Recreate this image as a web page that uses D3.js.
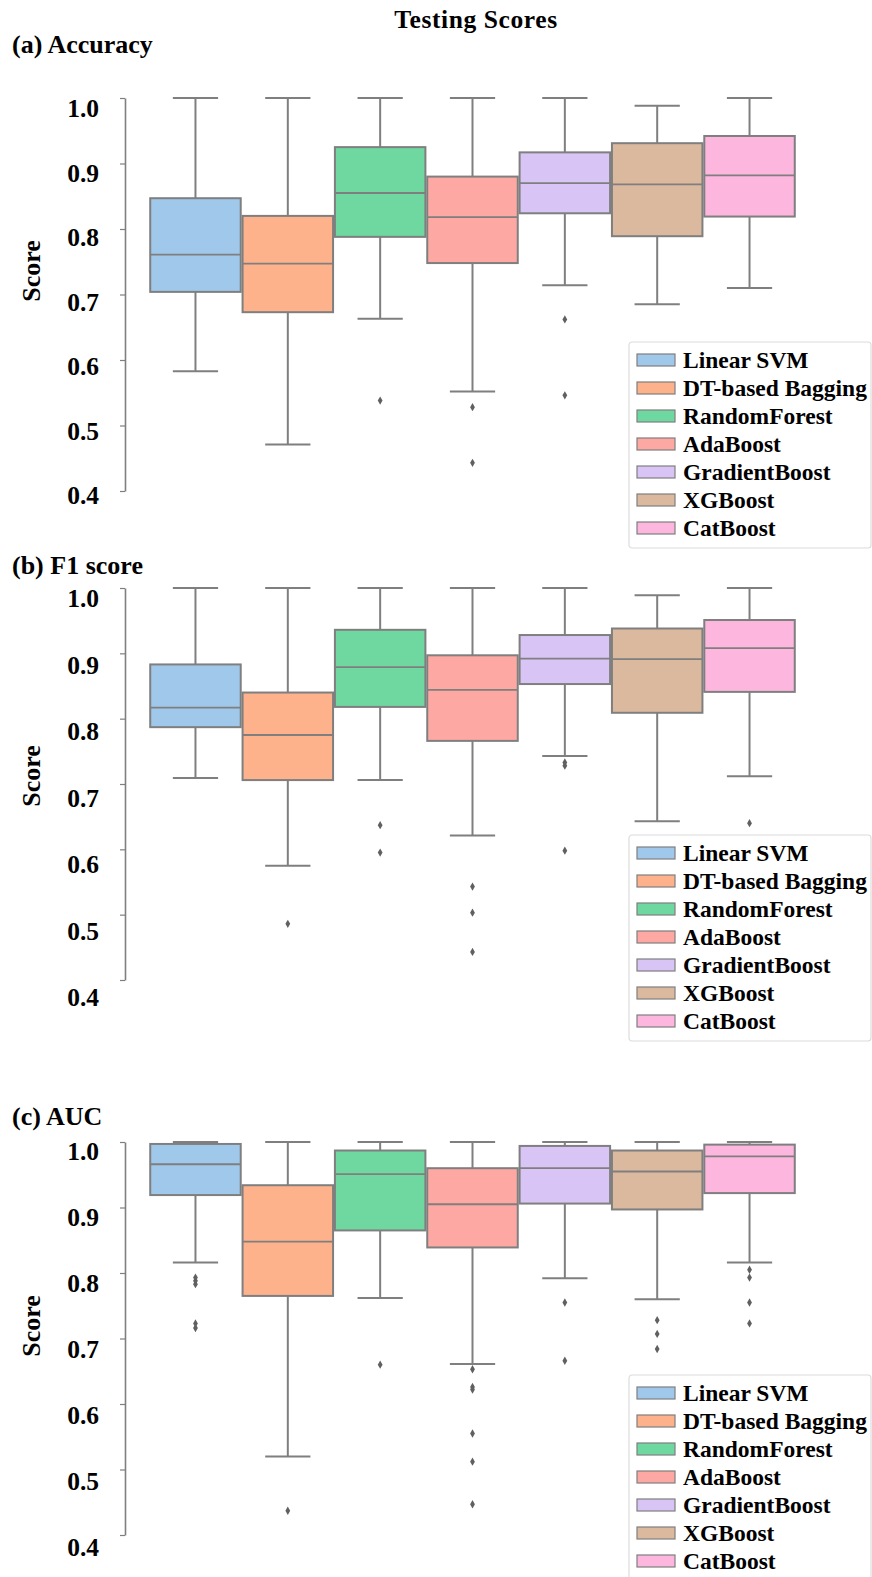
<!DOCTYPE html>
<html>
<head>
<meta charset="utf-8">
<script src="https://cdn.jsdelivr.net/npm/d3@7"></script>
<style>
  body { margin: 0; background: #fff; }
  svg text { font-family: "Liberation Serif", "Times New Roman", serif; font-weight: bold; fill: #000; }
</style>
</head>
<body>
<svg id="chart" width="872" height="1577"></svg>
<script>
// models, in plotting order
const models = ['Linear SVM', 'DT-based Bagging', 'RandomForest', 'AdaBoost',
                'GradientBoost', 'XGBoost', 'CatBoost'];
const pastel = ['#a0c8eb', '#fdb28c', '#6fd8a1', '#fea8a4', '#d8c5f6', '#dbb99e', '#fdb6dd'];

// box stats per model: [whisker low, q1, median, q3, whisker high]
const accuracyBoxes = [
  [0.583, 0.704, 0.761, 0.847, 1.000],
  [0.471, 0.673, 0.747, 0.820, 1.000],
  [0.663, 0.788, 0.855, 0.925, 1.000],
  [0.552, 0.748, 0.818, 0.880, 1.000],
  [0.714, 0.824, 0.870, 0.917, 1.000],
  [0.685, 0.789, 0.868, 0.931, 0.988],
  [0.710, 0.819, 0.882, 0.942, 1.000]
];
const accuracyOutliers = [[], [], [0.538], [0.528, 0.443], [0.662, 0.546], [], []];

const f1Boxes = [
  [0.709, 0.787, 0.817, 0.883, 1.000],
  [0.575, 0.706, 0.775, 0.840, 1.000],
  [0.706, 0.818, 0.879, 0.936, 1.000],
  [0.621, 0.766, 0.844, 0.897, 1.000],
  [0.743, 0.853, 0.892, 0.928, 1.000],
  [0.643, 0.809, 0.891, 0.938, 0.989],
  [0.712, 0.841, 0.908, 0.951, 1.000]
];
const f1Outliers = [[], [0.486], [0.637, 0.595], [0.543, 0.503, 0.443],
                    [0.733, 0.728, 0.598], [], [0.640]];

const aucBoxes = [
  [0.816, 0.919, 0.966, 0.997, 1.000],
  [0.520, 0.765, 0.848, 0.934, 1.000],
  [0.762, 0.865, 0.951, 0.987, 1.000],
  [0.661, 0.839, 0.905, 0.960, 1.000],
  [0.792, 0.906, 0.960, 0.994, 1.000],
  [0.760, 0.897, 0.955, 0.987, 1.000],
  [0.816, 0.922, 0.978, 0.996, 1.000]
];
const aucOutliers = [[0.793, 0.788, 0.783, 0.723, 0.716], [0.437], [0.660],
                     [0.653, 0.626, 0.622, 0.555, 0.512, 0.447], [0.755, 0.666],
                     [0.728, 0.707, 0.684], [0.805, 0.793, 0.755, 0.723]];

const yTicks = [0.4, 0.5, 0.6, 0.7, 0.8, 0.9, 1.0];

// layout of the three panels (pixels)
const panels = [
  { title: '(a) Accuracy', boxes: accuracyBoxes, outliers: accuracyOutliers,
    titleY: 53, top: 98, bottom: 491, lab10: 108, lab04: 495, scoreY: 271, legendTop: 342 },
  { title: '(b) F1 score', boxes: f1Boxes, outliers: f1Outliers,
    titleY: 574, top: 588, bottom: 980, lab10: 598, lab04: 997, scoreY: 776, legendTop: 835 },
  { title: '(c) AUC', boxes: aucBoxes, outliers: aucOutliers,
    titleY: 1125, top: 1142, bottom: 1535, lab10: 1151, lab04: 1547, scoreY: 1326, legendTop: 1375 }
];

const axisX = 125;
const lineColor = '#7f7f7f';
const svg = d3.select('#chart');

svg.append('text')
  .attr('x', 476).attr('y', 28)
  .attr('text-anchor', 'middle')
  .style('font-size', '25.5px').style('letter-spacing', '0.6px')
  .text('Testing Scores');

const x = d3.scaleBand().domain(models).range([149.3, 795.7]).padding(0);
const boxW = x.bandwidth() * 0.98;

function drawPanel(p) {
  const y = d3.scaleLinear().domain([0.4, 1.0]).range([p.bottom, p.top]);
  // tick labels in the figure sit a little lower than their ticks
  const labelY = d3.scaleLinear().domain([0.4, 1.0]).range([p.lab04, p.lab10]);

  svg.append('text')
    .attr('x', 12).attr('y', p.titleY)
    .style('font-size', '26px')
    .text(p.title);

  svg.append('text')
    .attr('transform', `translate(40,${p.scoreY}) rotate(-90)`)
    .attr('text-anchor', 'middle')
    .style('font-size', '26px')
    .text('Score');

  const ax = svg.append('g')
    .attr('transform', `translate(${axisX},0)`)
    .call(d3.axisLeft(y).tickValues(yTicks).tickFormat(d3.format('.1f'))
      .tickSizeInner(5).tickSizeOuter(0).tickPadding(21));
  ax.select('.domain').attr('stroke', lineColor).attr('stroke-width', 1.6);
  ax.selectAll('.tick line').attr('stroke', lineColor).attr('stroke-width', 1.2);
  ax.selectAll('.tick text')
    .attr('y', d => labelY(d) - y(d))
    .attr('dy', '0.35em')
    .style('font-size', '25.5px')
    .style('font-family', '"Liberation Serif", "Times New Roman", serif')
    .style('font-weight', 'bold')
    .attr('fill', '#000');

  const g = svg.append('g');
  const box = g.selectAll('g.box').data(p.boxes).join('g').attr('class', 'box');
  const cx = (d, i) => x(models[i]) + x.bandwidth() / 2;

  // whiskers
  box.append('line')
    .attr('x1', cx).attr('x2', cx)
    .attr('y1', d => y(d[3])).attr('y2', d => y(d[4]))
    .attr('stroke', lineColor).attr('stroke-width', 2);
  box.append('line')
    .attr('x1', cx).attr('x2', cx)
    .attr('y1', d => y(d[1])).attr('y2', d => y(d[0]))
    .attr('stroke', lineColor).attr('stroke-width', 2);
  // caps
  [0, 4].forEach(k => {
    box.append('line')
      .attr('x1', (d, i) => cx(d, i) - boxW / 4).attr('x2', (d, i) => cx(d, i) + boxW / 4)
      .attr('y1', d => y(d[k])).attr('y2', d => y(d[k]))
      .attr('stroke', lineColor).attr('stroke-width', 2);
  });
  // boxes
  box.append('rect')
    .attr('x', (d, i) => cx(d, i) - boxW / 2)
    .attr('width', boxW)
    .attr('y', d => y(d[3]))
    .attr('height', d => y(d[1]) - y(d[3]))
    .attr('fill', (d, i) => pastel[i])
    .attr('stroke', lineColor).attr('stroke-width', 2);
  // medians
  box.append('line')
    .attr('x1', (d, i) => cx(d, i) - boxW / 2).attr('x2', (d, i) => cx(d, i) + boxW / 2)
    .attr('y1', d => y(d[2])).attr('y2', d => y(d[2]))
    .attr('stroke', lineColor).attr('stroke-width', 1.8);

  // outliers
  const pts = [];
  p.outliers.forEach((arr, i) => arr.forEach(v => pts.push({ i, v })));
  g.selectAll('path.flier').data(pts).join('path')
    .attr('class', 'flier')
    .attr('d', d3.symbol(d3.symbolDiamond, 20))
    .attr('transform', d => `translate(${x(models[d.i]) + x.bandwidth() / 2},${y(d.v)})`)
    .attr('fill', '#606060');

  // legend
  const lg = svg.append('g').attr('transform', `translate(629,${p.legendTop})`);
  lg.append('rect')
    .attr('width', 242).attr('height', 206).attr('rx', 3)
    .attr('fill', '#fff').attr('fill-opacity', 0.85)
    .attr('stroke', '#dcdcdc').attr('stroke-width', 1.2);
  const row = lg.selectAll('g.row').data(models).join('g')
    .attr('class', 'row')
    .attr('transform', (d, i) => `translate(0,${18 + i * 28})`);
  row.append('rect')
    .attr('x', 8).attr('y', -6).attr('width', 38).attr('height', 12)
    .attr('fill', (d, i) => pastel[i])
    .attr('stroke', lineColor).attr('stroke-width', 1.2);
  row.append('text')
    .attr('x', 54).attr('dy', '0.35em')
    .style('font-size', '23.5px')
    .text(d => d);
}

panels.forEach(drawPanel);
</script>
</body>
</html>
